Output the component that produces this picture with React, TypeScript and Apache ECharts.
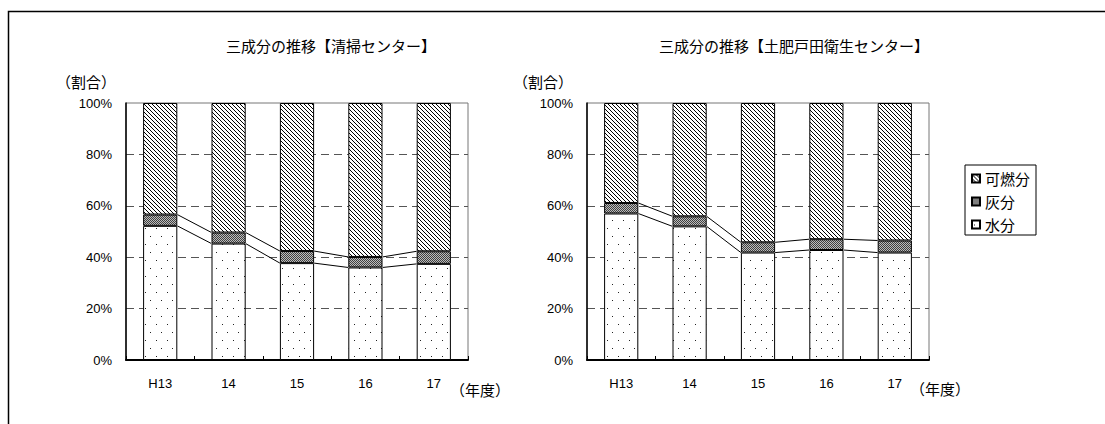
import React, { useEffect, useRef } from "react";
import * as echarts from "echarts";

// Fiscal years on the category axis
const years = ["H13", "14", "15", "16", "17"];

// 清掃センター (percent)
const seisouWater = [52.2, 45.3, 37.7, 36.0, 37.4];
const seisouAsh = [4.4, 4.3, 4.7, 4.1, 4.9];
const seisouCombustible = [43.4, 50.4, 57.6, 59.9, 57.7];

// 土肥戸田衛生センター (percent)
const toiWater = [57.0, 52.0, 41.8, 42.8, 41.8];
const toiAsh = [4.1, 3.9, 4.0, 4.2, 4.7];
const toiCombustible = [38.9, 44.1, 54.2, 53.0, 53.5];

const chartTitles = ["三成分の推移【清掃センター】", "三成分の推移【土肥戸田衛生センター】"];
const legendNames = ["可燃分", "灰分", "水分"];
const yAxisTitle = "（割合）";
const xAxisTitle = "（年度）";

const JP_FONT = '"Noto Sans CJK JP", "Noto Sans", sans-serif';
const NUM_FONT = '"Liberation Sans", Arial, sans-serif';

function makeTile(w: number, h: number, bg: string, fg: string, pixels: number[][]) {
  const c = document.createElement("canvas");
  c.width = w;
  c.height = h;
  const ctx = c.getContext("2d")!;
  ctx.fillStyle = bg;
  ctx.fillRect(0, 0, w, h);
  ctx.fillStyle = fg;
  pixels.forEach(([x, y]) => ctx.fillRect(x, y, 1, 1));
  return c;
}

export default function App() {
  const ref = useRef<HTMLDivElement>(null);

  useEffect(() => {
    if (!ref.current) return;
    const chart = echarts.init(ref.current, null, { renderer: "svg" });

    const hatch = makeTile(4, 4, "#ffffff", "#000000", [
      [0, 0],
      [1, 1],
      [2, 2],
      [3, 3],
    ]);
    const ashTile = makeTile(2, 2, "#bcbcbc", "#404040", [
      [0, 0],
      [1, 1],
    ]);
    const dots = makeTile(11, 16, "#ffffff", "#222222", [
      [2, 4],
      [7, 12],
    ]);

    const pattern = (img: HTMLCanvasElement) => ({ image: img, repeat: "repeat" });

    const barStyle = (img: HTMLCanvasElement) => ({
      color: pattern(img) as any,
      borderColor: "#000",
      borderWidth: 1,
    });

    const grids = [
      { left: 126, top: 103, width: 342, height: 257 },
      { left: 587, top: 103, width: 342, height: 257 },
    ];

    const datasets = [
      { water: seisouWater, ash: seisouAsh, comb: seisouCombustible },
      { water: toiWater, ash: toiAsh, comb: toiCombustible },
    ];

    const series: any[] = [];
    datasets.forEach((d, gi) => {
      const stack = "s" + gi;
      series.push({
        name: "水分",
        type: "bar",
        stack,
        xAxisIndex: gi,
        yAxisIndex: gi,
        barWidth: "50%",
        data: d.water,
        itemStyle: barStyle(dots),
      });
      series.push({
        name: "灰分",
        type: "bar",
        stack,
        xAxisIndex: gi,
        yAxisIndex: gi,
        barWidth: "50%",
        data: d.ash,
        itemStyle: barStyle(ashTile),
      });
      series.push({
        name: "可燃分",
        type: "bar",
        stack,
        xAxisIndex: gi,
        yAxisIndex: gi,
        barWidth: "50%",
        data: d.comb,
        itemStyle: barStyle(hatch),
      });

      // series lines joining the tops of the 水分 and 灰分 segments
      const waterTop = d.water;
      const ashTop = d.water.map((w, i) => w + d.ash[i]);
      [waterTop, ashTop].forEach((lv, li) => {
        const segs = lv.slice(0, -1).map((v, i) => [i, v, lv[i + 1]]);
        series.push({
          name: "connector-" + gi + "-" + li,
          type: "custom",
          xAxisIndex: gi,
          yAxisIndex: gi,
          z: 5,
          encode: { x: 0, y: [1, 2] },
          data: segs,
          renderItem: (_params: any, api: any) => {
            const i = api.value(0);
            const a = api.coord([i, api.value(1)]);
            const b = api.coord([i + 1, api.value(2)]);
            const half = api.size([1, 0])[0] * 0.25;
            return {
              type: "line",
              shape: { x1: a[0] + half, y1: a[1], x2: b[0] - half, y2: b[1] },
              style: { stroke: "#000", lineWidth: 1 },
            };
          },
        });
      });
    });

    const xAxes = grids.map((_, gi) => ({
      type: "category",
      gridIndex: gi,
      data: years,
      axisLine: { lineStyle: { color: "#000", width: 2 } },
      axisTick: { show: true, inside: true, length: 4, lineStyle: { color: "#000" } },
      axisLabel: { color: "#000", fontSize: 13, fontFamily: NUM_FONT, margin: 17 },
      splitLine: { show: false },
    }));

    const yAxes = grids.map((_, gi) => ({
      type: "value",
      gridIndex: gi,
      min: 0,
      max: 100,
      interval: 20,
      axisLine: { show: true, lineStyle: { color: "#000", width: 1.5 } },
      axisTick: { show: false },
      axisLabel: {
        color: "#000",
        fontSize: 13,
        fontFamily: NUM_FONT,
        margin: 14,
        formatter: "{value}%",
      },
      splitLine: {
        show: true,
        showMinLine: false,
        showMaxLine: false,
        lineStyle: { color: "#555", width: 1, type: [8, 5] },
      },
    }));

    const textEl = (text: string, x: number, y: number, size: number) => ({
      type: "text",
      x,
      y,
      style: {
        text,
        fill: "#000",
        font: `${size}px ${JP_FONT}`,
        textAlign: "center",
        textVerticalAlign: "middle",
      },
    });

    chart.setOption({
      animation: false,
      backgroundColor: "#fff",
      grid: grids.map((g) => ({
        ...g,
        show: true,
        borderColor: "#777",
        borderWidth: 1,
        backgroundColor: "transparent",
      })),
      xAxis: xAxes,
      yAxis: yAxes,
      legend: {
        data: legendNames,
        orient: "vertical",
        left: 965,
        top: 165,
        icon: "rect",
        itemWidth: 8,
        itemHeight: 8,
        itemGap: 8,
        padding: [6, 6, 3, 6],
        borderColor: "#000",
        borderWidth: 1,
        backgroundColor: "#fff",
        selectedMode: false,
        textStyle: { color: "#000", fontSize: 15, fontFamily: JP_FONT },
      },
      series,
      graphic: [
        {
          type: "polyline",
          shape: {
            points: [
              [8.5, 424],
              [8.5, 11.5],
              [1105, 11.5],
            ],
          },
          style: { stroke: "#000", lineWidth: 1.5, fill: "none" },
        },
        textEl(chartTitles[0], 331, 45, 15),
        textEl(chartTitles[1], 794, 45, 15),
        textEl(yAxisTitle, 86, 81, 15),
        textEl(yAxisTitle, 543, 81, 15),
        textEl(xAxisTitle, 480, 389, 15),
        textEl(xAxisTitle, 940, 388, 15),
      ],
    });

    return () => chart.dispose();
  }, []);

  return (
    <div
      ref={ref}
      style={{ position: "absolute", left: 0, top: 0, width: 1105, height: 424 }}
    />
  );
}
